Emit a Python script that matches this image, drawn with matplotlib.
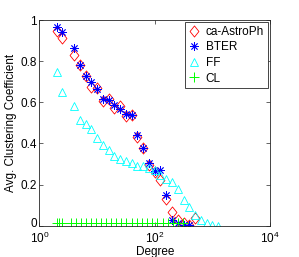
"""Plot average clustering coefficient by degree for ca-AstroPh and models."""

from __future__ import annotations

import matplotlib

matplotlib.use("Agg")

import matplotlib.pyplot as plt
from matplotlib.path import Path
from matplotlib.ticker import FixedLocator, LogFormatterMathtext
from matplotlib.transforms import ScaledTranslation

# Log-binned degree centres shared by the real graph and the models.
degree_bins = [
    2.0, 2.5, 4.0, 5.0, 6.3, 7.9, 10.0, 12.6, 15.8, 20.0, 25.1, 31.6,
    39.8, 50.1, 63.1, 79.4, 100.0, 125.9, 158.5, 199.5, 251.2, 316.2,
    398.1, 501.2, 631.0, 794.3, 1000.0, 1258.9,
]

astroph_cc = [
    0.945, 0.914, 0.830, 0.781, 0.729, 0.673, 0.668, 0.608, 0.616, 0.574,
    0.582, 0.533, 0.538, 0.430, 0.376, 0.295, 0.262, 0.222, 0.130, 0.068,
    0.028, 0.013, 0.001, 0.036,
]

bter_cc = [
    0.965, 0.940, 0.862, 0.781, 0.729, 0.700, 0.663, 0.616, 0.611, 0.587,
    0.566, 0.541, 0.538, 0.441, 0.380, 0.307, 0.267, 0.271, 0.149, 0.028,
    0.012, 0.002, 0.001,
]

ff_cc = [
    0.749, 0.651, 0.582, 0.512, 0.495, 0.470, 0.428, 0.390, 0.366, 0.340,
    0.325, 0.312, 0.307, 0.292, 0.290, 0.278, 0.270, 0.246, 0.228, 0.212,
    0.176, 0.124, 0.092, 0.052, 0.027, 0.012, 0.003, 0.0,
]

cl_degrees = [
    2.0, 2.2, 2.45, 3.56, 4.35, 5.32, 6.49, 7.93, 9.68, 11.8, 14.4, 17.6,
    21.5, 26.3, 32.1, 39.9, 48.7, 59.5, 72.6, 90.8, 111.0, 138.0, 168.0,
    210.0, 257.0, 310.0,
]

cl_cc = [
    0.013, 0.013, 0.014, 0.012, 0.012, 0.012, 0.012, 0.012, 0.012, 0.012,
    0.012, 0.012, 0.012, 0.013, 0.013, 0.013, 0.013, 0.014, 0.014, 0.015,
    0.015, 0.015, 0.015, 0.015, 0.014, 0.012,
]

x_ticks = [1, 100, 10000]
y_ticks = [0, 0.2, 0.4, 0.6, 0.8, 1]
y_tick_labels = ["0", "0.2", "0.4", "0.6", "0.8", "1"]

# MATLAB-like diamond: a bit narrower than it is tall.
DIAMOND = Path([(0, 1), (0.8, 0), (0, -1), (-0.8, 0), (0, 1)], closed=True)


def main() -> None:
    """Draw the clustering coefficient figure and save it."""

    plt.rcParams["font.family"] = ["Liberation Sans", "DejaVu Sans"]
    plt.rcParams["font.size"] = 8.5

    figure = plt.figure(figsize=(2.99, 2.57), dpi=100)
    axes = figure.add_axes([0.132, 0.122, 0.771, 0.8])

    axes.plot(
        degree_bins[: len(astroph_cc)],
        astroph_cc,
        linestyle="none",
        marker=DIAMOND,
        markersize=8,
        markerfacecolor="none",
        markeredgecolor="#ff0000",
        markeredgewidth=0.6,
        label="ca-AstroPh",
    )
    axes.plot(
        degree_bins[: len(bter_cc)],
        bter_cc,
        linestyle="none",
        marker=(8, 2, 0),
        markersize=6,
        markeredgecolor="#0000ff",
        markeredgewidth=0.6,
        label="BTER",
    )
    axes.plot(
        degree_bins[: len(ff_cc)],
        ff_cc,
        linestyle="none",
        marker="^",
        markersize=6,
        markerfacecolor="none",
        markeredgecolor="#00ffff",
        markeredgewidth=0.6,
        label="FF",
    )
    axes.plot(
        cl_degrees,
        cl_cc,
        linestyle="none",
        marker="+",
        markersize=7,
        markeredgecolor="#00ff00",
        markeredgewidth=0.7,
        label="CL",
    )

    axes.set_xscale("log")
    axes.set_xlim(1, 10000)
    axes.set_ylim(0, 1)
    axes.xaxis.set_major_locator(FixedLocator(x_ticks))
    axes.xaxis.set_major_formatter(LogFormatterMathtext())
    axes.xaxis.set_minor_locator(FixedLocator([]))
    axes.set_yticks(y_ticks)
    axes.set_yticklabels(y_tick_labels)

    axes.tick_params(
        direction="in",
        top=True,
        right=True,
        length=3,
        width=0.5,
        pad=2,
        colors="#262626",
        labelcolor="black",
    )
    axes.tick_params(axis="x", pad=3.5)
    for spine in axes.spines.values():
        spine.set_linewidth(0.6)
        spine.set_color("#262626")

    # lift the "0" label a touch so it clears the 10^0 label below it
    zero_label = axes.get_yticklabels()[0]
    zero_label.set_transform(
        zero_label.get_transform()
        + ScaledTranslation(0, 2.5 / 72, figure.dpi_scale_trans)
    )

    axes.set_xlabel("Degree", labelpad=0)
    axes.set_ylabel("Avg. Clustering Coefficient", labelpad=2)

    legend = axes.legend(
        loc="upper right",
        numpoints=1,
        fancybox=False,
        framealpha=1,
        edgecolor="#262626",
        handlelength=1.0,
        handletextpad=0.5,
        borderpad=0.3,
        labelspacing=0.3,
        borderaxespad=0.2,
    )
    legend.get_frame().set_linewidth(0.6)

    figure.savefig("out.png", dpi=100)
    plt.close(figure)


if __name__ == "__main__":
    main()
